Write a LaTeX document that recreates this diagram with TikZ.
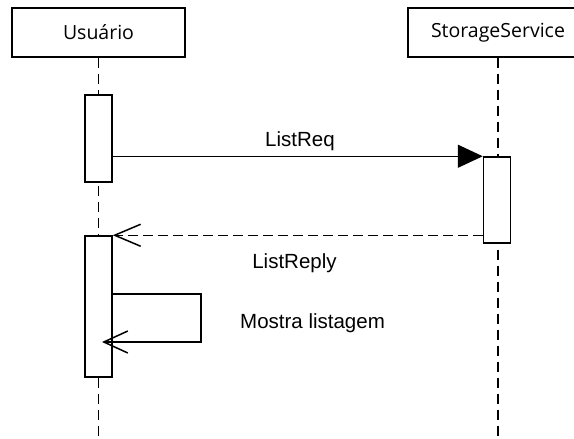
\documentclass[tikz,border=0pt]{standalone}
\usepackage{fontspec}
\setmainfont{Liberation Sans}
\newfontfamily\headfont{Open Sans}
\usetikzlibrary{arrows.meta}
\begin{document}
\begin{tikzpicture}[x=1pt,y=-1pt,
  actor/.style={draw, line width=1.6pt, fill=white, minimum width=173pt,
    minimum height=49pt, inner sep=0pt, font=\headfont\fontsize{19.5}{22}\selectfont},
  act/.style={draw, line width=1.5pt, fill=white, minimum width=27pt, inner sep=0pt},
  life/.style={line width=1.6pt, dash pattern=on 10pt off 6pt},
  msg/.style={line width=1.5pt},
  reply/.style={line width=1.5pt, dash pattern=on 10pt off 5pt},
  lbl/.style={font=\fontsize{20.5}{24}\selectfont, inner sep=0pt, anchor=base}]
\useasboundingbox (0,0) rectangle (574,439);
\clip (0,0) rectangle (574,439);

% participants
\node[actor] (user) at (98.5,32.5) {Usuário};
\node[actor, minimum width=180pt] (storage) at (498,32.5) {StorageService};

% lifelines
\coordinate (userEnd) at (98.5,439);
\coordinate (storageEnd) at (498,439);
\draw[life] (user.south) -- (userEnd);
\draw[life] (storage.south) -- (storageEnd);

% activation bars
\node[act, minimum height=87pt] (a1) at (98.5,138.5) {};
\node[act, minimum height=86pt] (s1) at (497,200) {};
\node[act, minimum height=141pt] (a2) at (98.5,306.5) {};

% synchronous request
\draw[msg, -{Triangle[length=25pt,width=23pt]}] (s1.north west -| a1.east) -- (s1.north west);
\node[lbl] (lreq) at (300,146.7) {ListReq};

% reply
\draw[reply, -{Straight Barb[length=26pt,width=22pt,line width=1.5pt]}]
  (s1.south west |- a2.north east) -- (a2.north east);
\node[lbl] (lrep) at (294.5,268) {ListReply};

% self message
\coordinate (selfA) at (201,294);
\coordinate (selfB) at (201,342);
\coordinate (selfEnd) at (102,342);
\draw[msg, -{Straight Barb[length=24pt,width=22pt,line width=1.5pt]}]
  (selfA -| a2.east) -- (selfA) -- (selfB) -- (selfEnd);
\node[lbl, anchor=base west] (lself) at (240,328) {Mostra listagem};
\end{tikzpicture}
\end{document}
